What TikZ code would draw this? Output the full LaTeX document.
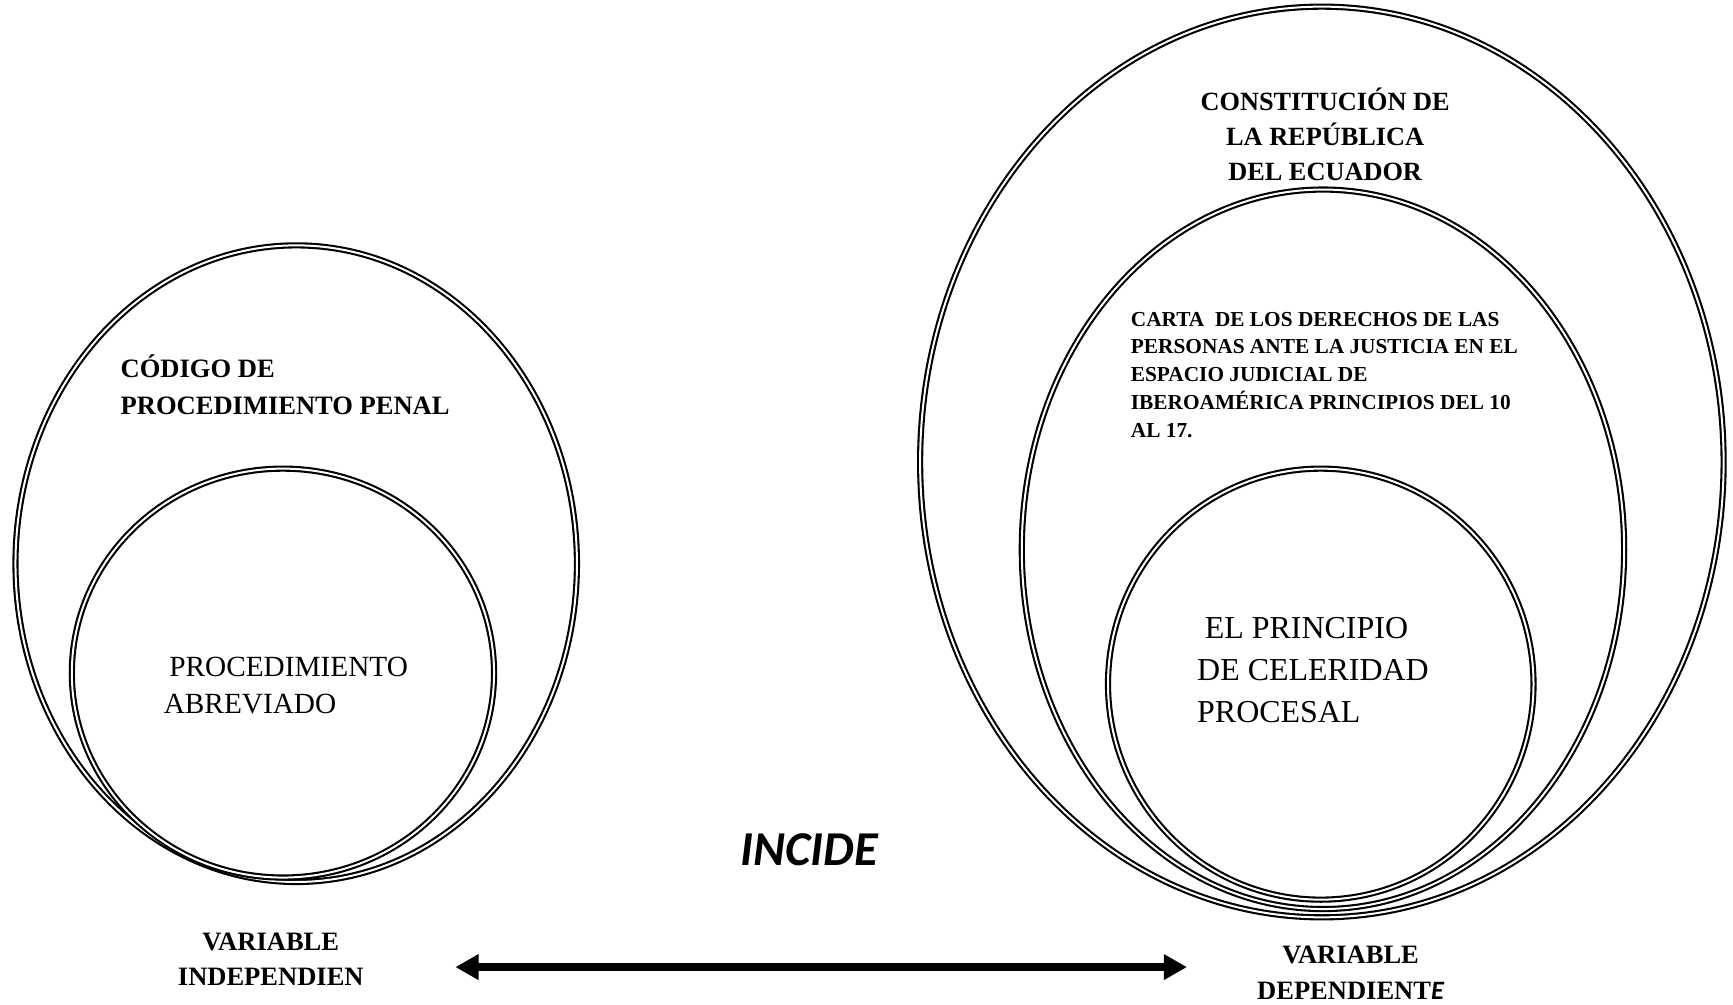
\documentclass[tikz,border=0pt]{standalone}
\usepackage{fontspec}
\setmainfont{Liberation Serif}
\newfontfamily\calib{Carlito}
\usetikzlibrary{shapes.geometric,arrows.meta}
\tikzset{
  dbl/.style={draw, ellipse, inner sep=0pt, line width=1.9pt, double=white, double distance=1.8pt},
  btxt/.style={inner sep=0pt, font=\bfseries},
  arr/.style={line width=7.7pt, {Triangle[length=21pt,width=22pt]}-{Triangle[length=21pt,width=22pt]}}
}
\begin{document}
\begin{tikzpicture}[x=1pt,y=-1pt]
\fill[white] (0,0) rectangle (1568,909.3);
\useasboundingbox (0,0) rectangle (1568,909.3);
% left
\node[dbl, minimum width=508pt, minimum height=576pt] (cpp) at (268,510) {};
\node[dbl, minimum width=382pt, minimum height=370pt] (pa) at (256,609) {};
% right
\node[dbl, minimum width=727pt, minimum height=824pt] (cons) at (1196,418) {};
\node[dbl, minimum width=545pt, minimum height=651pt] (carta) at (1197,497) {};
\node[dbl, minimum width=385pt, minimum height=390pt] (cel) at (1195,619) {};
% texts (base anchor = baseline of last line)
\node[btxt, anchor=base west, align=left, font=\bfseries\fontsize{24}{33}\selectfont] (tcpp) at (109,375) {CÓDIGO DE\\PROCEDIMIENTO PENAL};
\node[inner sep=0pt, anchor=base west, align=left, font=\fontsize{26.5}{34}\selectfont] (tpa) at (148,646) {\hspace*{5pt}PROCEDIMIENTO\\ABREVIADO};
\node[btxt, anchor=base, align=center, font=\bfseries\fontsize{23.8}{31.7}\selectfont] (tcons) at (1199,163) {CONSTITUCIÓN DE\\LA REPÚBLICA\\DEL ECUADOR};
\node[btxt, anchor=base west, align=left, font=\bfseries\fontsize{19.3}{25.1}\selectfont] (tcarta) at (1023,395.5) {CARTA\ \ DE LOS DERECHOS DE LAS\\PERSONAS ANTE LA JUSTICIA EN EL\\ESPACIO JUDICIAL DE\\IBEROAMÉRICA PRINCIPIOS DEL 10\\AL 17.};
\node[inner sep=0pt, anchor=base west, align=left, font=\fontsize{28.9}{38}\selectfont] (tcel) at (1083,654) {\hspace*{7pt}EL PRINCIPIO\\DE CELERIDAD\\PROCESAL};
\node[inner sep=0pt, anchor=base, font=\calib\bfseries\itshape\fontsize{44}{44}\selectfont] (inc) at (732,783) {INCIDE};
\node[btxt, anchor=base, align=center, font=\bfseries\fontsize{24}{32}\selectfont] (vi) at (245,892) {VARIABLE\\INDEPENDIEN};
\node[btxt, anchor=base, align=center, font=\bfseries\fontsize{24}{32}\selectfont] (vd) at (1222,904) {VARIABLE\\DEPENDIENT{\calib\bfseries\itshape E}};
% arrow
\coordinate (aL) at (412,875);
\coordinate (aR) at (1074,875);
\draw[arr] (aL) -- (aR);
\end{tikzpicture}
\end{document}
